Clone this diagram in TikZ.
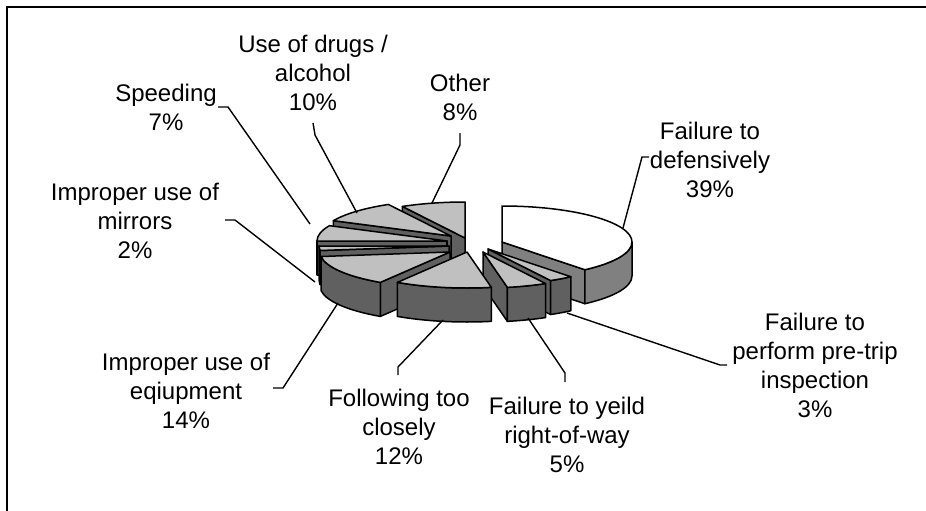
\documentclass[tikz,border=0pt]{standalone}
\usepackage{fontspec}
\setmainfont{Liberation Sans}

\definecolor{topgray}{HTML}{C0C0C0}
\definecolor{sidegray}{HTML}{606060}
\definecolor{sidewhite}{HTML}{808080}

% apex x, apex y, from angle, to angle (clockwise), top colour, side colour
\newcommand{\pieslice}[6]{%
  \begin{scope}[shift={(#1,#2)}]
    \pgfmathtruncatemacro{\showfrom}{cos(#3)<-0.001}
    \pgfmathtruncatemacro{\showto}{cos(#4)>0.001}
    \pgfmathsetmacro{\wallfrom}{min(#3,0)}
    \pgfmathsetmacro{\wallto}{max(#4,-180)}
    \pgfmathtruncatemacro{\showwall}{\wallfrom>\wallto}
    \ifnum\showfrom=1
      \filldraw[face, fill=#6] (0,0) -- (#3:130 and 36) -- ++(0,-34) -- (0,-34) -- cycle;
    \fi
    \ifnum\showto=1
      \filldraw[face, fill=#6] (0,0) -- (#4:130 and 36) -- ++(0,-34) -- (0,-34) -- cycle;
    \fi
    \ifnum\showwall=1
      \filldraw[face, fill=#6] (\wallfrom:130 and 36)
        arc[start angle=\wallfrom, end angle=\wallto, x radius=130, y radius=36]
        -- ++(0,-34)
        arc[start angle=\wallto, end angle=\wallfrom, x radius=130, y radius=36] -- cycle;
    \fi
    \filldraw[face, fill=#5] (0,0) -- (#3:130 and 36)
      arc[start angle=#3, end angle=#4, x radius=130, y radius=36] -- cycle;
  \end{scope}}

\begin{document}
\begin{tikzpicture}[x=1pt, y=1pt,
    face/.style={draw=black, line width=1.5pt, line join=round},
    leader/.style={draw=black, line width=1.4pt},
    lbl/.style={align=center, inner sep=0pt, font=\fontsize{24}{29}\selectfont}]

    \useasboundingbox (0,0) rectangle (926,-511);
    \draw[line width=2pt] (7,-511) -- (7,-7) -- (926,-7);

    % slices, back to front
    \pieslice{465}{-238}{118.8}{90}{topgray}{sidegray}
    \pieslice{451}{-236}{154.8}{118.8}{topgray}{sidegray}
    \pieslice{447}{-241}{-180}{-205.2}{topgray}{sidegray}
    \pieslice{449}{-246}{-172.8}{-180}{topgray}{sidegray}
    \pieslice{502}{-242}{90}{-50.4}{white}{sidewhite}
    \pieslice{450}{-252}{-122.4}{-172.8}{topgray}{sidegray}
    \pieslice{488}{-249}{-50.4}{-61.2}{topgray}{sidegray}
    \pieslice{483}{-252}{-61.2}{-79.2}{topgray}{sidegray}
    \pieslice{467}{-252}{-79.2}{-122.4}{topgray}{sidegray}

    % labels
    \node[lbl] (drugs) at (313,-73) {Use of drugs /\\alcohol\\10\%};
    \node[lbl] (other) at (460,-97) {Other\\8\%};
    \node[lbl] (speed) at (166,-107) {Speeding\\7\%};
    \node[lbl] (defens) at (710,-160) {Failure to\\defensively\\39\%};
    \node[lbl] (mirror) at (135,-221) {Improper use of\\mirrors\\2\%};
    \node[lbl] (equip) at (186,-391) {Improper use of\\eqiupment\\14\%};
    \node[lbl] (follow) at (399,-427) {Following too\\closely\\12\%};
    \node[lbl] (yield) at (567,-435) {Failure to yeild\\right-of-way\\5\%};
    \node[lbl] (pretrip) at (815,-365) {Failure to\\perform pre-trip\\inspection\\3\%};

    % leader lines
    \coordinate (speed-a) at (218,-107);   \coordinate (speed-b) at (310,-224);
    \coordinate (drugs-a) at (313,-123);   \coordinate (drugs-b) at (357,-213);
    \coordinate (other-a) at (460,-133);   \coordinate (other-b) at (432,-203);
    \coordinate (defens-a) at (649,-157);  \coordinate (defens-b) at (623,-228);
    \coordinate (mirror-a) at (225,-220);  \coordinate (mirror-b) at (315,-282);
    \coordinate (equip-a) at (273,-388);   \coordinate (equip-b) at (338,-303);
    \coordinate (follow-a) at (398,-375);  \coordinate (follow-b) at (443,-320);
    \coordinate (yield-a) at (565,-382);   \coordinate (yield-b) at (528,-318);
    \coordinate (pretrip-a) at (727,-365); \coordinate (pretrip-b) at (567,-313);

    \draw[leader] (speed-a) -- ++(10,0) -- (speed-b);
    \draw[leader] (drugs-a) -- ++(2,-12) -- (drugs-b);
    \draw[leader] (other-a) -- ++(0,-12) -- (other-b);
    \draw[leader] (defens-a) -- ++(-7,0) -- (defens-b);
    \draw[leader] (mirror-a) -- ++(10,0) -- (mirror-b);
    \draw[leader] (equip-a) -- ++(10,0) -- (equip-b);
    \draw[leader] (follow-a) -- ++(0,8) -- (follow-b);
    \draw[leader] (yield-a) -- ++(0,9) -- (yield-b);
    \draw[leader] (pretrip-a) -- ++(-7,0) -- (pretrip-b);
\end{tikzpicture}
\end{document}
